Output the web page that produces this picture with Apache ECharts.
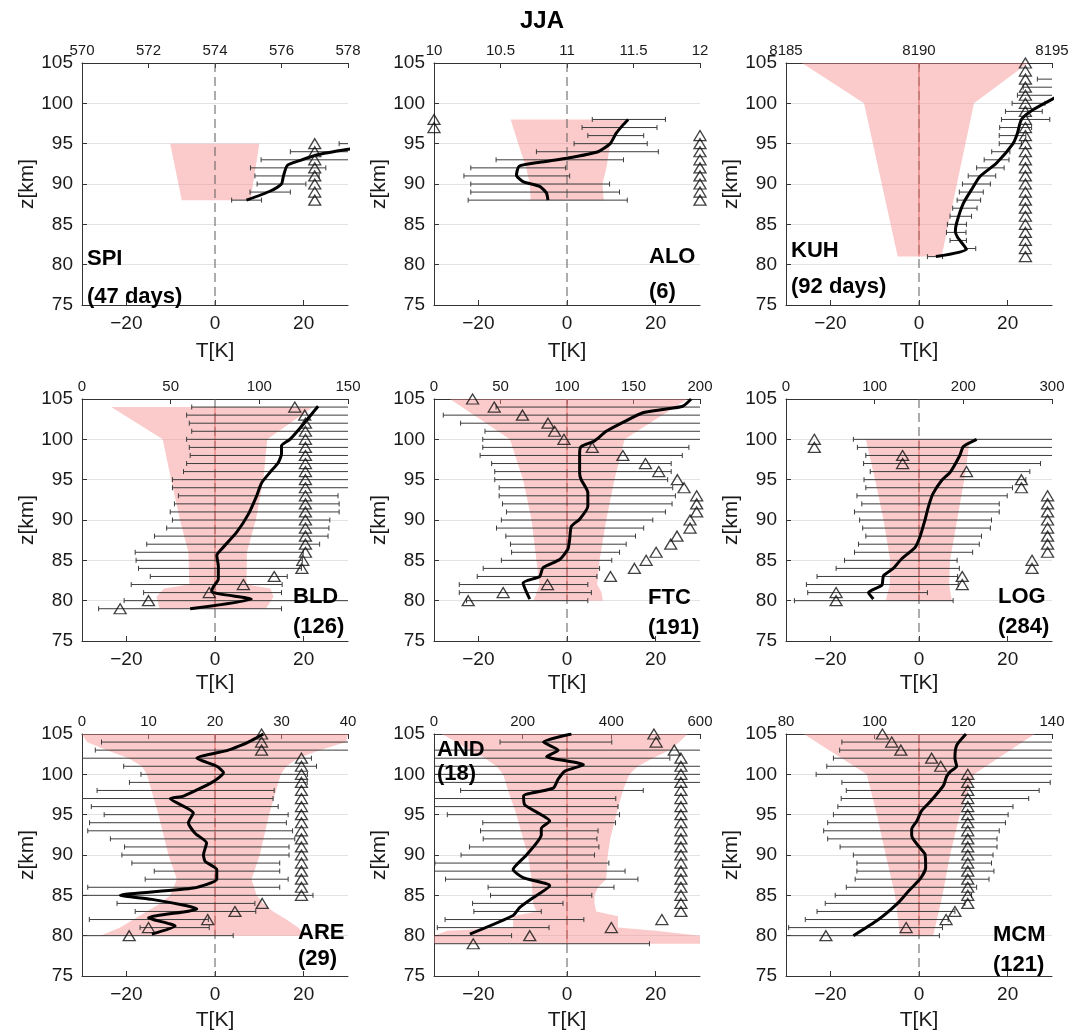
<!DOCTYPE html>
<html><head><meta charset="utf-8">
<script src="https://cdn.jsdelivr.net/npm/echarts@6/dist/echarts.min.js"></script>
<style>html,body{margin:0;padding:0;background:#fff}#c{width:1084px;height:1036px}</style>
</head><body><div id="c"></div>
<script>
// ---------------- DATA ----------------
// fill rows: [z, left T, right T]; line: [T, z]; err rows: [z, lo, hi]; tri: [count (top axis), z]
const SPI_fill = [[95,-10.1,10.0],[88,-7.5,8.0]];
const SPI_line = [[7.1,88],[12.4,89.1],[15,90],[15.4,90.9],[16.3,92.3],[19.1,92.9],[22.9,93.6],[30,94.3],[34,94.6]];
const SPI_err = [[95,28,33],[94,17,33],[93,10.4,33],[92,8.0,25],[91,9,23.5],[90,9.5,20.5],[89,7.9,17],[88,3.75,10.5]];
const SPI_tri = [[577,88],[577,89],[577,90],[577,91],[577,92],[577,93],[577,94],[577,95]];

const ALO_fill = [[98,-12.7,13.2],[95,-11,9.75],[92,-9.2,8.9],[90,-8.4,8],[88,-8.2,8.3]];
const ALO_line = [[13.8,98],[12.6,97.3],[11.1,96.3],[9.75,95],[7,94],[0,93.2],[-6.15,92.7],[-10.8,92.2],[-11.4,91.1],[-9.9,90.3],[-6.15,89.7],[-4.65,88.9],[-4.3,88]];
const ALO_err = [[98,5.7,22.2],[97,3.4,20.3],[96,4.7,17.3],[95,1.6,18.1],[94,-6.9,20.6],[93,-16,12.75],[92,-21.7,-0.3],[91,-23.25,0.6],[90,-21.7,9.6],[89,-21.7,11.85],[88,-22.3,13.6]];
const ALO_tri = [[10,97],[10,98],[12,88],[12,89],[12,90],[12,91],[12,92],[12,93],[12,94],[12,95],[12,96]];

const KUH_fill = [[105,-26.4,24.6],[100,-12.4,12.4],[81,-4.8,5.1]];
const KUH_line = [[3.8,81],[10.7,81.9],[8.7,83.4],[8.2,84.1],[8.5,85.2],[10,87.6],[11.85,89.3],[13.7,90.9],[17.5,92.6],[21.2,95],[22.2,96.3],[23.1,98],[25.7,99.2],[30,100.5],[33,101.3]];
const KUH_err = [[81,1.9,5.3],[82,10.35,12.8],[83,7,10.7],[84,6.2,10.6],[85,6.4,10.7],[86,7,11.85],[87,7.6,13.1],[88,8.6,13.9],[89,9.1,14.5],[90,9.8,16.1],[91,11.1,17.3],[92,13,19.2],[93,14.7,20.3],[94,16.4,20.5],[95,18.1,23.1],[96,18.1,24.1],[97,18.2,25.4],[98,18.6,29.5],[99,19.5,27.8],[100,21,28.4],[101,22.2,33],[102,23.5,33],[103,26.7,33]];
const KUH_tri = [[8194,81],[8194,82],[8194,83],[8194,84],[8194,85],[8194,86],[8194,87],[8194,88],[8194,89],[8194,90],[8194,91],[8194,92],[8194,93],[8194,94],[8194,95],[8194,96],[8194,97],[8194,98],[8194,99],[8194,100],[8194,101],[8194,102],[8194,103],[8194,104],[8194,105]];

const BLD_fill = [[104,-23.4,22.1],[100,-11.8,11.8],[95,-9.9,10.9],[90,-7.9,9.2],[86,-6,7.2],[82,-5.8,7.1],[81.5,-11.5,12.5],[80.5,-13.2,13.2],[79,-12.5,11.5]];
const BLD_line = [[-5.6,79],[8.2,80.2],[-0.75,81.1],[-0.4,81.7],[0.75,82.7],[0.75,84.3],[0.4,85.6],[1.5,86.4],[4.9,88.5],[7.5,90.7],[9.4,93],[10.5,94.6],[12.4,95.9],[14.25,97.1],[15,98.2],[15,99.2],[16.9,100],[19.5,101.6],[23.25,104.1]];
const BLD_err = [[104,-5.25,33],[103,-6.4,33],[102,-5.8,33],[101,-5.25,33],[100,-6.4,33],[99,-5.8,33],[98,-5.6,33],[97,-6.4,33],[96,-7.1,33],[95,-9.6,33],[94,-9.6,33],[93,-8.25,27.75],[92,-9.15,28],[91,-10.1,28],[90,-9.6,25.9],[89,-10.9,25.7],[88,-13.65,25.5],[87,-15.4,23.6],[86,-18,19.9],[85,-17.8,19.7],[84,-17.25,19.5],[83,-14.6,16.3],[82,-18.9,15.15],[81,-16.1,15],[80,-20.5,33],[79,-26.25,15]];
const BLD_tri = [[120,104],[125.6,103],[126,102],[126,101],[126,100],[126,99],[126,98],[126,97],[126,96],[126,95],[126,94],[126,93],[126,92],[126,91],[126,90],[126,89],[126,88],[126,87],[126,86],[124.5,85],[124,84],[108.4,83],[91,82],[71.75,81],[37.5,80],[21.5,79]];

const FTC_fill = [[105,-26.4,27.2],[100,-12.9,13],[95,-9.9,10.7],[90,-8,8.85],[85,-6.9,7.35],[82,-6.2,6.8],[81,-6.8,7.8],[80,-7.6,8.1]];
const FTC_line = [[-8.4,80.2],[-9.9,82.2],[-6.15,83],[-5.4,84.1],[-1.65,85.1],[0.2,86.4],[0.6,87.6],[0.975,89.2],[2.85,90.1],[4.7,91.7],[4.7,93.4],[3.2,95],[2.85,95.8],[2.85,98.3],[3.2,99.1],[6.2,99.8],[8.85,101],[12.6,102.1],[17.1,103.3],[21.6,103.7],[26.1,104.1],[28,105]];
const FTC_err = [[104,-16,33],[103,-27.9,33],[102,-24,33],[101,-18.5,33],[100,-19,33],[99,-19,27.5],[98,-19.6,26],[97,-17,23.5],[96,-16.3,23.5],[95,-16.3,22.7],[94,-15.3,23.85],[93,-15.3,24.45],[92,-14.55,23.7],[91,-13.65,22.2],[90,-14.8,19.35],[89,-15.9,17.3],[88,-13.8,15.45],[87,-12.75,13.35],[86,-12.5,11.85],[85,-14.8,10.1],[84,-18.9,7.35],[83,-20.25,6.75],[82,-24.3,4.7],[81,-24.3,5.5],[80,-22.65,4.7]];
const FTC_tri = [[29,105],[45.3,104],[66.5,103],[85.7,102],[90.7,101],[97.7,100],[119,99],[142,98],[159,97],[169,96],[183,95],[188,94],[197.5,93],[197.5,92],[197.5,91],[192.5,90],[192.5,89],[182.7,88],[178,87],[167,86],[159.5,85],[150.7,84],[132.7,83],[85.3,82],[52,81],[25.7,80]];

const LOG_fill = [[100,-12,11.5],[95,-9.9,10.2],[90,-8,8.6],[85,-6.5,7],[82,-6.6,6.8],[80,-7.5,7.4]];
const LOG_line = [[13,100],[10,99.1],[9.2,98],[7,95.9],[5.1,94.9],[3.1,93.2],[2.1,91.6],[1.35,90],[0.2,87.9],[-0.9,86.6],[-3.9,85.2],[-5.8,84],[-8,83.1],[-8.4,81.9],[-11.4,81],[-10.3,80.2]];
const LOG_err = [[100,-14.8,33],[99,-13.9,33],[98,-12,33],[97,-12.5,27.4],[96,-11,25],[95,-12.4,24.1],[94,-12,21.1],[93,-14,19.9],[92,-12.9,18.1],[91,-14.55,18.1],[90,-13.4,16.35],[89,-12.7,16.1],[88,-12,14.1],[87,-13.65,13.6],[86,-14.55,12.1],[85,-16.8,8.6],[84,-18.7,9.1],[83,-23,8.7],[82,-25.4,8.85],[81,-25.1,1.9],[80,-28.1,7.7]];
const LOG_tri = [[32,100],[32,99],[131.5,98],[131.5,97],[203.6,96],[265.5,95],[265.5,94],[295,93],[295,92],[295,91],[295,90],[295,89],[295,88],[295,87],[295,86],[277.5,85],[277.5,84],[198.75,83],[198.75,82],[56.5,81],[56.5,80]];

const ARE_fill = [[105,-30,30],[104,-28.9,29.6],[103,-24.4,23.6],[102,-19.5,18.75],[101,-16.5,16.1],[100,-15.4,14.85],[95,-12.75,12.2],[90,-10.5,10.1],[87,-8.6,8.25],[85,-10.1,9.4],[84,-12.4,10.9],[83,-15.4,13.1],[82,-18.4,16.1],[81,-21.4,18.75],[80,-25.9,20.5]];
const ARE_line = [[10.9,105],[8.6,104.3],[6.4,103.7],[3,103],[-4.1,102],[0.4,101],[1.9,100.2],[-0.4,99.1],[-7.1,97.3],[-10.1,97],[-4.9,95.2],[-6,94],[-4.5,92.7],[-1.9,91.5],[-2.6,90],[-2.2,89.2],[0.4,88.2],[0.4,87],[-4.9,85.9],[-21.4,85],[-14.25,84.5],[-6.4,83.7],[-4.1,83.3],[-15,82.2],[-9,81.2],[-14.25,80.2]];
const ARE_err = [[104,-25.6,33],[103,-27,33],[102,-33,21.75],[101,-20.6,22.9],[100,-16.7,20.85],[99,-19.3,20.8],[98,-26.6,13.35],[97,-33,13.1],[96,-27.9,14.25],[95,-25,16.5],[94,-28.3,16.1],[93,-28.7,17.5],[92,-23.6,18],[91,-20.4,16.7],[90,-21,16.7],[89,-18.75,14.6],[88,-13.7,14.6],[87,-15.75,16.5],[86,-28.7,14.6],[85,-33,22.1],[84,-22.1,9],[83,-18,9.2],[82,-28.35,-1.5],[81,-16.9,-1.3],[80,-33,4.1]];
const ARE_tri = [[27,105],[27,104],[27,103],[33,102],[33,101],[33,100],[33,99],[33,98],[33,97],[33,96],[33,95],[33,94],[33,93],[33,92],[33,91],[33,90],[33,89],[33,88],[33,87],[33,86],[33,85],[27.1,84],[23,83],[18.9,82],[10,81],[7.1,80]];

const AND_fill = [[105,-28.3,27.2],[104,-24.9,25.35],[103,-21.9,23.1],[102,-18.5,19.35],[101,-15.9,16],[100,-14.4,14.1],[98,-13.3,12.6],[95,-11.4,11.1],[92,-9.9,9.75],[90,-8.8,9.2],[87,-8,8.85],[86,-7.9,7],[85,-7.8,6.2],[84,-7.65,6.2],[83,-6.9,6.6],[82.4,-12.15,11.5],[81,-12.15,11.5],[80.6,-27,20],[80,-30,30],[79,-30,30]];
const AND_line = [[1,105],[-5.3,104],[-2,103],[-4.6,102.2],[3.7,101.2],[-0.45,100.4],[-2,99.4],[-3.1,98.3],[-9.8,97.3],[-9.5,96.2],[-3.9,94.2],[-5.8,93.3],[-5.8,92.5],[-9.15,90],[-12.15,88.2],[-9.9,87.2],[-3.9,86.2],[-7.65,84.7],[-10.65,83.5],[-12.15,82.5],[-21.9,80.2]];
const AND_err = [[104,-15.1,10.1],[103,-33,33],[102,-33,23.2],[101,-33,33],[100,-33,33],[99,-33,33],[98,-24,17.2],[97,-33,11],[96,-33,11.5],[95,-27,11.85],[94,-19,10.95],[93,-19.5,7],[92,-18.9,6.75],[91,-22,7.2],[90,-23.9,6.2],[89,-29.8,9.45],[88,-33,13.1],[87,-27.4,16],[86,-17.8,10.6],[85,-17.25,5.6],[84,-21.3,-0.9],[83,-21,-5.8],[82,-27.5,3.8],[81,-29.25,-4.05],[80,-33,-12.5],[79,-33,18.6]];
const AND_tri = [[496,105],[501,104],[542,103],[557,102],[557,101],[557,100],[557,99],[557,98],[557,97],[557,96],[557,95],[557,94],[557,93],[557,92],[557,91],[557,90],[557,89],[557,88],[557,87],[557,86],[557,85],[557,84],[557,83],[514,82],[400,81],[216,80],[88.5,79]];

const MCM_fill = [[105,-26,26.1],[100,-11.8,12.4],[95,-9.5,9.2],[90,-7.5,7],[85,-5.4,5.3],[80,-4.3,3.2]];
const MCM_line = [[10.6,105],[8.5,103.6],[8.1,102],[8.5,101],[7,100.3],[6.2,99.7],[5.5,98.6],[2.5,96.6],[0.6,95.5],[-0.5,94.2],[-1.65,93.2],[-1.65,92.4],[0.2,90.9],[1.35,90.1],[1.5,88.4],[0.2,87],[-2.4,85.5],[-4.65,84.1],[-9.15,82],[-14.8,80]];
const MCM_err = [[104,-17.4,33],[103,-17.9,33],[102,-19.3,33],[101,-20.8,33],[100,-23.2,33],[99,-17.4,29.6],[98,-16.4,27.1],[97,-17.55,24.75],[96,-18.3,21.2],[95,-19.3,20.1],[94,-20.6,19.5],[93,-21.5,18.1],[92,-20.6,17.6],[91,-17.8,17.6],[90,-14.8,16.7],[89,-14,16.35],[88,-14,16.9],[87,-14.4,15.8],[86,-16.4,13],[85,-18.9,11.85],[84,-21.15,10.35],[83,-23,8.1],[82,-25.65,6.6],[81,-29.4,5.3],[80,-33,4.6]];
const MCM_tri = [[101.75,105],[103.85,104],[105.9,103],[112.85,102],[114.9,101],[121,100],[121,99],[121,98],[121,97],[121,96],[121,95],[121,94],[121,93],[121,92],[121,91],[121,90],[121,89],[121,88],[121,87],[121,86],[121,85],[121,84],[118.1,83],[116.1,82],[107.1,81],[89,80]];

// station names / day counts / top-axis scales
const NAMES = ['SPI','ALO','KUH','BLD','FTC','LOG','ARE','AND','MCM'];
const DAYS = ['(47 days)','(6)','(92 days)','(126)','(191)','(284)','(29)','(18)','(121)'];
const TOP_AXIS = [[570,578,2],[10,12,0.5],[8185,8195,5],[0,150,50],[0,200,50],[0,300,100],[0,40,10],[0,600,200],[80,140,20]];
const T_TICKS = [-20,0,20];
const Z_RANGE = [75,105,5];
const T_RANGE = [-30,30];

// ---------------- LAYOUT ----------------
const FILLS = [SPI_fill,ALO_fill,KUH_fill,BLD_fill,FTC_fill,LOG_fill,ARE_fill,AND_fill,MCM_fill];
const LINES = [SPI_line,ALO_line,KUH_line,BLD_line,FTC_line,LOG_line,ARE_line,AND_line,MCM_line];
const ERRS = [SPI_err,ALO_err,KUH_err,BLD_err,FTC_err,LOG_err,ARE_err,AND_err,MCM_err];
const TRIS = [SPI_tri,ALO_tri,KUH_tri,BLD_tri,FTC_tri,LOG_tri,ARE_tri,AND_tri,MCM_tri];
const COL_X = [82,434,786], ROW_Y = [63,399,734], GW = 266, GH = 242;
const LABEL_POS = [[87,259,297],[649,257,292],[791,251,287],[293,597,627],[648,598,628],[998,597,627],[298,933,959],[437,750,774],[993,935,965]];
const NAME_GAP = [36,36,36,32,32,32,34,34,34];
const FONT = "'Liberation Sans', Arial, Helvetica, sans-serif";

const chart = echarts.init(document.getElementById('c'), null, {renderer:'canvas'});
const grid=[], xAxis=[], yAxis=[], series=[], graphic=[];

function fillRenderer(rows, red){
  return function(params, api){
    if (params.dataIndex !== 0) return null;
    const cs = params.coordSys;
    const left = rows.map(r => api.coord([r[1], r[0]]));
    const right = rows.slice().reverse().map(r => api.coord([r[2], r[0]]));
    const x0 = api.coord([0, rows[0][0]])[0];
    const ch = [{type:'polygon', shape:{points:left.concat(right)}, style:{fill:'rgba(246,140,140,0.45)'}}];
    ch.push({type:'line', shape:{x1:x0,y1:cs.y,x2:x0,y2:cs.y+cs.height}, style:{stroke:'#5a5a5a', lineWidth:1, lineDash:[9,5]}});
    if (red) {
      const zs = rows.map(r => r[0]);
      const a = api.coord([0, Math.max(...zs)]), b = api.coord([0, Math.min(...zs)]);
      ch.push({type:'line', shape:{x1:a[0],y1:a[1],x2:b[0],y2:b[1]}, style:{stroke:'#e86a6a', lineWidth:1}});
    }
    return {type:'group', children: ch};
  };
}
function errRenderer(params, api){
  const z = api.value(0), lo = api.value(1), hi = api.value(2);
  const cs = params.coordSys, xl = cs.x, xr = cs.x + cs.width;
  const a = api.coord([lo, z]), b = api.coord([hi, z]);
  const y = a[1];
  const x1 = Math.max(xl, a[0]), x2 = Math.min(xr, b[0]);
  const st = {stroke:'#3c3c3c', lineWidth:1};
  const ch = [{type:'line', shape:{x1:x1,y1:y,x2:x2,y2:y}, style:st}];
  const c = 2.5;
  if (a[0] >= xl) ch.push({type:'line', shape:{x1:a[0],y1:y-c,x2:a[0],y2:y+c}, style:st});
  if (b[0] <= xr) ch.push({type:'line', shape:{x1:b[0],y1:y-c,x2:b[0],y2:y+c}, style:st});
  return {type:'group', children: ch};
}

for (let i = 0; i < 9; i++) {
  const col = i % 3, row = Math.floor(i / 3);
  grid.push({left: COL_X[col], top: ROW_Y[row], width: GW, height: GH, containLabel:false});
  const axLine = {show:true, onZero:false, lineStyle:{color:'#333', width:1}};
  const tick = {show:true, inside:true, length:5, lineStyle:{color:'#333'}};
  xAxis.push({
    gridIndex:i, type:'value', position:'bottom', min:T_RANGE[0], max:T_RANGE[1],
    axisLine:axLine, axisTick:Object.assign({customValues:T_TICKS}, tick), splitLine:{show:false},
    axisLabel:{customValues:T_TICKS, fontSize:19, color:'#1a1a1a', margin:9, fontFamily:FONT, formatter:v=>String(v).replace('-','\u2212')},
    name:'T[K]', nameLocation:'middle', nameGap:NAME_GAP[i], nameTextStyle:{fontSize:21, color:'#1a1a1a', fontFamily:FONT}
  });
  const ta = TOP_AXIS[i];
  xAxis.push({
    gridIndex:i, type:'value', position:'top', min:ta[0], max:ta[1], interval:ta[2],
    axisLine:axLine, axisTick:tick, splitLine:{show:false},
    axisLabel:{fontSize:15, color:'#1a1a1a', margin:5, fontFamily:FONT, formatter:v=>String(v)}
  });
  yAxis.push({
    gridIndex:i, type:'value', min:Z_RANGE[0], max:Z_RANGE[1], interval:Z_RANGE[2],
    axisLine:axLine, axisTick:tick,
    splitLine:{show:true, lineStyle:{color:'#e3e3e3', width:1}},
    axisLabel:{fontSize:19, color:'#1a1a1a', margin:9, fontFamily:FONT},
    name:'z[km]', nameLocation:'middle', nameGap:44, nameTextStyle:{fontSize:21, color:'#1a1a1a', fontFamily:FONT}
  });
  series.push({
    type:'custom', xAxisIndex:2*i, yAxisIndex:i, z:1, silent:true,
    renderItem: fillRenderer(FILLS[i], i >= 2),
    encode:{x:[1,2], y:0}, data: FILLS[i]
  });
  series.push({
    type:'custom', xAxisIndex:2*i, yAxisIndex:i, z:2, silent:true,
    renderItem: errRenderer, encode:{x:[1,2], y:0}, data: ERRS[i]
  });
  series.push({
    type:'line', xAxisIndex:2*i, yAxisIndex:i, z:3, data: LINES[i], showSymbol:false, symbol:'none',
    smooth:0.2, lineStyle:{color:'#000', width:3}, clip:true, silent:true
  });
  series.push({
    type:'scatter', xAxisIndex:2*i+1, yAxisIndex:i, z:4, data: TRIS[i], symbol:'triangle', symbolSize:[12,10],
    itemStyle:{color:'rgba(0,0,0,0)', borderColor:'#111', borderWidth:1.3}, clip:false, silent:true
  });
  const lp = LABEL_POS[i];
  graphic.push({type:'text', x:lp[0], y:lp[1], z:100, style:{text:NAMES[i], font:'bold 22px '+FONT, fill:'#000', verticalAlign:'middle'}});
  graphic.push({type:'text', x:lp[0], y:lp[2], z:100, style:{text:DAYS[i], font:'bold 22px '+FONT, fill:'#000', verticalAlign:'middle'}});
}

chart.setOption({
  animation:false,
  backgroundColor:'#fff',
  title:{text:'JJA', left:'center', top:4, textStyle:{fontSize:24, fontWeight:'bold', color:'#000', fontFamily:FONT}},
  grid, xAxis, yAxis, series, graphic
});
</script></body></html>
